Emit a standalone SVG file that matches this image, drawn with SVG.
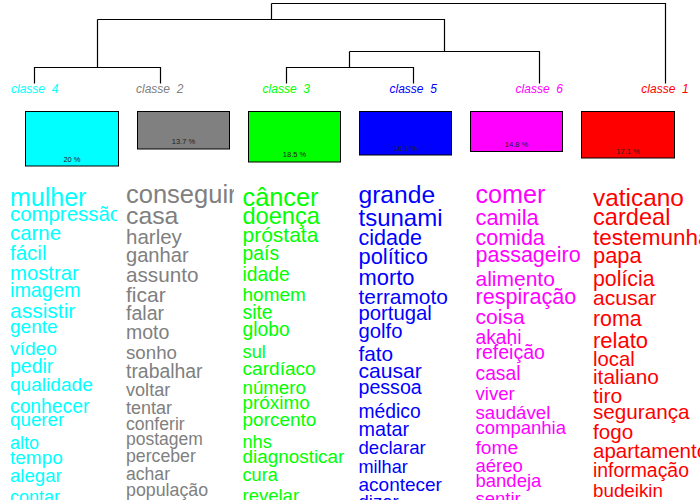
<svg xmlns="http://www.w3.org/2000/svg" width="700" height="500" viewBox="0 0 700 500">
<style>
text{font-family:"Liberation Sans",Arial,sans-serif}
.lbl{font-size:12px;font-style:italic;text-anchor:middle}
.pct{font-size:7.5px;text-anchor:middle;fill:#222}
.box{stroke:#000;stroke-width:1}
.dend{stroke:#000;stroke-width:1.2;fill:none}
.k4{fill:#00FFFF}.k2{fill:#808080}.k3{fill:#00FF00}.k5{fill:#0000FF}.k6{fill:#FF00FF}.k1{fill:#FF0000}
</style>
<defs>
<clipPath id="cl4"><rect x="0" y="170" width="117" height="330"/></clipPath>
<clipPath id="cl2"><rect x="117" y="170" width="117" height="330"/></clipPath>
<clipPath id="cl3"><rect x="234" y="170" width="117" height="330"/></clipPath>
<clipPath id="cl5"><rect x="351" y="170" width="116" height="330"/></clipPath>
<clipPath id="cl6"><rect x="467" y="170" width="117" height="330"/></clipPath>
<clipPath id="cl1"><rect x="584" y="170" width="116" height="330"/></clipPath>
</defs>
<rect width="700" height="500" fill="#fff"/>
<g id="connectors" class="dend">
<path d="M271.5 3.5H665.5V83.5"/>
<path d="M271.5 3.5V19.5"/>
<path d="M97.5 19.5H444.5V51.5"/>
<path d="M97.5 19.5V67.5"/>
<path d="M34.5 83.5V67.5H160.5V83.5"/>
<path d="M349.5 51.5H539.5V83.5"/>
<path d="M349.5 51.5V67.5"/>
<path d="M286.5 83.5V67.5H413.5V83.5"/>
</g>
<g id="classe4">
<text class="lbl k4" x="34.7" y="92.5" xml:space="preserve">classe  4</text>
<rect class="box k4" x="25.5" y="111.5" width="93" height="54.5"/>
<text class="pct" x="72" y="162">20 %</text>
<g class="k4" clip-path="url(#cl4)">
<text x="10" y="206" font-size="25">mulher</text>
<text x="10" y="221" font-size="20.4">compressão</text>
<text x="10" y="239.5" font-size="20.4">carne</text>
<text x="10" y="260" font-size="20.5">fácil</text>
<text x="10" y="279.5" font-size="20.3">mostrar</text>
<text x="10" y="297" font-size="19.8">imagem</text>
<text x="10" y="317.5" font-size="21">assistir</text>
<text x="10" y="333" font-size="19">gente</text>
<text x="10" y="355" font-size="19.2">vídeo</text>
<text x="10" y="373" font-size="19.5">pedir</text>
<text x="10" y="391" font-size="19.1">qualidade</text>
<text x="10" y="413" font-size="19.3">conhecer</text>
<text x="10" y="426" font-size="18.8">querer</text>
<text x="10" y="448.5" font-size="18">alto</text>
<text x="10" y="464" font-size="19">tempo</text>
<text x="10" y="482" font-size="18.6">alegar</text>
<text x="10" y="503" font-size="18">contar</text>
</g>
</g>
<g id="classe2">
<text class="lbl k2" x="159.7" y="92.5" xml:space="preserve">classe  2</text>
<rect class="box k2" x="137.5" y="111.5" width="92" height="37.5"/>
<text class="pct" x="183.5" y="144.3">13.7 %</text>
<g class="k2" clip-path="url(#cl2)">
<text x="126" y="203" font-size="25.5">conseguir</text>
<text x="126" y="224" font-size="24.8">casa</text>
<text x="126" y="243.5" font-size="20.5">harley</text>
<text x="126" y="262" font-size="20.1">ganhar</text>
<text x="126" y="282" font-size="20.7">assunto</text>
<text x="126" y="302" font-size="21">ficar</text>
<text x="126" y="319.5" font-size="19.6">falar</text>
<text x="126" y="338.5" font-size="19.5">moto</text>
<text x="126" y="358.5" font-size="18.7">sonho</text>
<text x="126" y="377.5" font-size="19.4">trabalhar</text>
<text x="126" y="396" font-size="18.1">voltar</text>
<text x="126" y="413.5" font-size="18">tentar</text>
<text x="126" y="429.5" font-size="17.6">conferir</text>
<text x="126" y="445" font-size="17.5">postagem</text>
<text x="126" y="462" font-size="17.7">perceber</text>
<text x="126" y="480" font-size="17.6">achar</text>
<text x="126" y="496" font-size="17.8">população</text>
</g>
</g>
<g id="classe3">
<text class="lbl k3" x="286.3" y="92.5" xml:space="preserve">classe  3</text>
<rect class="box k3" x="248.5" y="111.5" width="92" height="50.5"/>
<text class="pct" x="294.5" y="157.3">18.5 %</text>
<g class="k3" clip-path="url(#cl3)">
<text x="242.5" y="206" font-size="25.3">câncer</text>
<text x="242.5" y="223.5" font-size="23.6">doença</text>
<text x="242.5" y="242" font-size="21">próstata</text>
<text x="242.5" y="260" font-size="19.4">país</text>
<text x="242.5" y="281" font-size="19.3">idade</text>
<text x="242.5" y="301" font-size="19">homem</text>
<text x="242.5" y="318.5" font-size="19.3">site</text>
<text x="242.5" y="336" font-size="19.3">globo</text>
<text x="242.5" y="357.5" font-size="18.3">sul</text>
<text x="242.5" y="375" font-size="19.1">cardíaco</text>
<text x="242.5" y="393.5" font-size="18.7">número</text>
<text x="242.5" y="408.5" font-size="18.9">próximo</text>
<text x="242.5" y="426" font-size="19">porcento</text>
<text x="242.5" y="447.5" font-size="18.2">nhs</text>
<text x="242.5" y="463" font-size="18.9">diagnosticar</text>
<text x="242.5" y="481" font-size="18.2">cura</text>
<text x="242.5" y="502" font-size="18.5">revelar</text>
</g>
</g>
<g id="classe5">
<text class="lbl k5" x="413.2" y="92.5" xml:space="preserve">classe  5</text>
<rect class="box k5" x="359.5" y="111.5" width="92" height="43.5"/>
<text class="pct" x="405.5" y="150.7">16.1 %</text>
<g class="k5" clip-path="url(#cl5)">
<text x="358.5" y="203" font-size="24.6">grande</text>
<text x="358.5" y="226" font-size="24">tsunami</text>
<text x="358.5" y="245" font-size="21.5">cidade</text>
<text x="358.5" y="263.5" font-size="21.9">político</text>
<text x="358.5" y="285" font-size="21.9">morto</text>
<text x="358.5" y="303.5" font-size="20.9">terramoto</text>
<text x="358.5" y="320" font-size="20.3">portugal</text>
<text x="358.5" y="338" font-size="20.3">golfo</text>
<text x="358.5" y="361" font-size="20.8">fato</text>
<text x="358.5" y="377.5" font-size="21.1">causar</text>
<text x="358.5" y="394" font-size="19.6">pessoa</text>
<text x="358.5" y="417.5" font-size="19.3">médico</text>
<text x="358.5" y="436" font-size="19.8">matar</text>
<text x="358.5" y="454" font-size="18.6">declarar</text>
<text x="358.5" y="473" font-size="18.1">milhar</text>
<text x="358.5" y="491" font-size="19">acontecer</text>
<text x="358.5" y="508" font-size="18.5">dizer</text>
</g>
</g>
<g id="classe6">
<text class="lbl k6" x="539.3" y="92.5" xml:space="preserve">classe  6</text>
<rect class="box k6" x="470.5" y="111.5" width="92" height="40"/>
<text class="pct" x="516.5" y="146.7">14.8 %</text>
<g class="k6" clip-path="url(#cl6)">
<text x="475.5" y="203" font-size="25.2">comer</text>
<text x="475.5" y="225" font-size="21.9">camila</text>
<text x="475.5" y="245" font-size="21.5">comida</text>
<text x="475.5" y="262" font-size="21.5">passageiro</text>
<text x="475.5" y="286" font-size="21">alimento</text>
<text x="475.5" y="303.5" font-size="21.6">respiração</text>
<text x="475.5" y="323.5" font-size="21.1">coisa</text>
<text x="475.5" y="343.5" font-size="19.3">akahi</text>
<text x="475.5" y="358.5" font-size="19.5">refeição</text>
<text x="475.5" y="380" font-size="19.3">casal</text>
<text x="475.5" y="399.5" font-size="18.6">viver</text>
<text x="475.5" y="418.5" font-size="18.7">saudável</text>
<text x="475.5" y="434" font-size="18.5">companhia</text>
<text x="475.5" y="453.5" font-size="19.2">fome</text>
<text x="475.5" y="472" font-size="18.5">aéreo</text>
<text x="475.5" y="487" font-size="18.5">bandeja</text>
<text x="475.5" y="505" font-size="18.5">sentir</text>
</g>
</g>
<g id="classe1">
<text class="lbl k1" x="665" y="92.5" xml:space="preserve">classe  1</text>
<rect class="box k1" x="581.5" y="111.5" width="93" height="46.5"/>
<text class="pct" x="628" y="154">17.1 %</text>
<g class="k1" clip-path="url(#cl1)">
<text x="593" y="206" font-size="24.4">vaticano</text>
<text x="593" y="225" font-size="23.6">cardeal</text>
<text x="593" y="245" font-size="22.5">testemunha</text>
<text x="593" y="263" font-size="21.9">papa</text>
<text x="593" y="286" font-size="21.3">polícia</text>
<text x="593" y="305" font-size="21.1">acusar</text>
<text x="593" y="326" font-size="21.4">roma</text>
<text x="593" y="348" font-size="22">relato</text>
<text x="593" y="366" font-size="20.3">local</text>
<text x="593" y="384" font-size="20.8">italiano</text>
<text x="593" y="402.7" font-size="21.1">tiro</text>
<text x="593" y="418.5" font-size="20.7">segurança</text>
<text x="593" y="438.5" font-size="20.6">fogo</text>
<text x="593" y="457.5" font-size="20.5">apartamento</text>
<text x="593" y="477" font-size="19.4">informação</text>
<text x="593" y="497" font-size="18.8">budeikin</text>
</g>
</g>
</svg>
